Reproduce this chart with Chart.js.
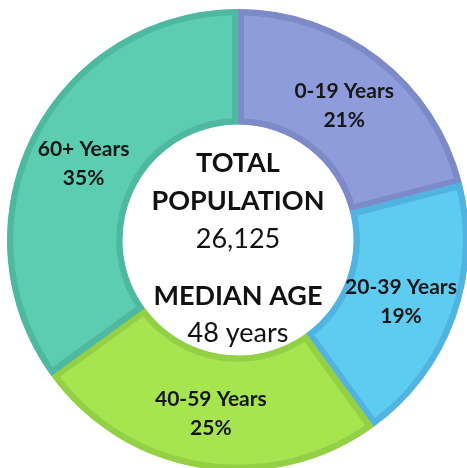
<!DOCTYPE html>
<html>
<head>
<meta charset="utf-8">
<script src="https://cdn.jsdelivr.net/npm/chart.js@4/dist/chart.umd.min.js"></script>
<style>
  html, body { margin: 0; padding: 0; background: #fff; overflow: hidden; }
  #wrap { position: absolute; left: 7px; top: 9px; width: 462px; height: 462px; }
</style>
</head>
<body>
<div id="wrap"><canvas id="chart"></canvas></div>
<script>
const ageGroups = ['0-19 Years', '20-39 Years', '40-59 Years', '60+ Years'];
const shares = [21, 19, 25, 35];
const fillColors = ['#8e9cdb', '#5ecbf1', '#a6e550', '#5ccdb0'];
const edgeColors = ['#7d8ac8', '#50b3e0', '#93d046', '#4eb9a0'];

const centerLines = [
  { text: 'TOTAL', bold: true, dy: -68 },
  { text: 'POPULATION', bold: true, dy: -30 },
  { text: '26,125', bold: false, dy: 8 },
  { text: 'MEDIAN AGE', bold: true, dy: 65 },
  { text: '48 years', bold: false, dy: 102 }
];

// slice labels at the middle of each arc
const sliceLabels = {
  id: 'sliceLabels',
  afterDatasetsDraw(chart) {
    const ctx = chart.ctx;
    const arcs = chart.getDatasetMeta(0).data;
    ctx.save();
    ctx.fillStyle = '#161616';
    ctx.font = 'bold 21px Lato';
    ctx.textAlign = 'center';
    ctx.textBaseline = 'alphabetic';
    arcs.forEach((arc, i) => {
      const p = arc.tooltipPosition();
      ctx.fillText(ageGroups[i], p.x, p.y - 5);
      ctx.fillText(shares[i] + '%', p.x, p.y + 24);
    });
    ctx.restore();
  }
};

// totals written in the hole
const centerText = {
  id: 'centerText',
  afterDatasetsDraw(chart) {
    const ctx = chart.ctx;
    const arc = chart.getDatasetMeta(0).data[0];
    ctx.save();
    ctx.fillStyle = '#111';
    ctx.textAlign = 'center';
    ctx.textBaseline = 'alphabetic';
    centerLines.forEach(line => {
      ctx.font = (line.bold ? 'bold ' : '') + '27px Lato';
      ctx.fillText(line.text, arc.x, arc.y + line.dy);
    });
    ctx.restore();
  }
};

new Chart(document.getElementById('chart'), {
  type: 'doughnut',
  data: {
    labels: ageGroups,
    datasets: [{
      data: shares,
      backgroundColor: fillColors,
      borderColor: edgeColors,
      borderWidth: 6,
      borderAlign: 'inner'
    }]
  },
  options: {
    responsive: true,
    maintainAspectRatio: false,
    animation: false,
    cutout: '50%',
    plugins: {
      legend: { display: false },
      tooltip: { enabled: false }
    }
  },
  plugins: [sliceLabels, centerText]
});
</script>
</body>
</html>
